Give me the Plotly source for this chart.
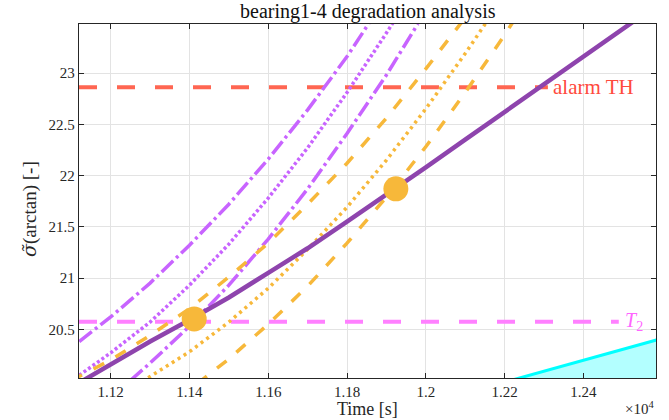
import plotly.graph_objects as go

# ---------------- data ----------------
x_tick_vals = [11200, 11400, 11600, 11800, 12000, 12200, 12400]
x_tick_text = ["1.12", "1.14", "1.16", "1.18", "1.2", "1.22", "1.24"]
y_tick_vals = [20.5, 21, 21.5, 22, 22.5, 23]
y_tick_text = ["20.5", "21", "21.5", "22", "22.5", "23"]

# measured degradation (solid purple)
t_meas = [11130, 11200, 11300, 11400, 11500, 11600, 11700, 11800, 11900,
          12000, 12100, 12200, 12300, 12400, 12500, 12530]
s_meas = [20.00, 20.16, 20.38, 20.59, 20.81, 21.05, 21.29, 21.55, 21.81,
          22.08, 22.35, 22.62, 22.89, 23.16, 23.43, 23.51]

# predictions from first point (light purple)
t_p1 = [11120, 11200, 11300, 11400, 11500, 11600, 11700, 11800, 11870]
s_p1 = [20.38, 20.62, 20.95, 21.32, 21.72, 22.16, 22.64, 23.16, 23.57]
t_p2 = [11120, 11200, 11300, 11400, 11500, 11600, 11700, 11800, 11900, 11920]
s_p2 = [20.05, 20.27, 20.57, 20.93, 21.33, 21.78, 22.27, 22.81, 23.39, 23.51]
t_p3 = [11250, 11300, 11400, 11500, 11600, 11700, 11800, 11900, 11980]
s_p3 = [20.00, 20.17, 20.53, 20.93, 21.38, 21.87, 22.41, 22.98, 23.48]

# predictions from second point (orange)
t_o1 = [11100, 11200, 11300, 11400, 11500, 11600, 11700, 11800, 11900, 12000, 12090]
s_o1 = [20.00, 20.20, 20.44, 20.70, 21.01, 21.34, 21.72, 22.12, 22.56, 23.04, 23.49]
t_o2 = [11280, 11300, 11400, 11500, 11600, 11700, 11800, 11900, 12000, 12100, 12160]
s_o2 = [19.99, 20.04, 20.28, 20.57, 20.90, 21.28, 21.69, 22.15, 22.65, 23.19, 23.53]
t_o3 = [11420, 11500, 11600, 11700, 11800, 11900, 12000, 12100, 12200, 12230]
s_o3 = [19.97, 20.21, 20.55, 20.92, 21.34, 21.79, 22.28, 22.81, 23.37, 23.55]

# prediction points
t_pts = [11412, 11924]
s_pts = [20.60, 21.87]

# thresholds
alarm_th = 22.86
alarm_x = [11119.5, 12310]
t2_th = 20.574
t2_x = [11119.5, 12490]

# cyan region (bottom right)
t_cyan = [12200, 12600]
s_cyan = [19.984, 20.41]

x_range = [11119.5, 12584.5]
y_range = [20.0244, 23.478]

# ---------------- styling ----------------
FONT = '"Liberation Serif", "DejaVu Serif", "Times New Roman", serif'
AX = "#262626"
PURPLE = "#8e44ad"
LPURPLE = "#c864ff"
ORANGE = "#f7b83a"
RED = "#ff6652"
MAGENTA = "#ff80ff"

fig = go.Figure()

fig.add_trace(go.Scatter(x=t_cyan, y=s_cyan, mode="lines", fill="tozeroy",
                         fillcolor="#b3ffff", line=dict(color="#00ffff", width=3),
                         hoverinfo="skip"))

fig.add_trace(go.Scatter(x=alarm_x, y=[alarm_th] * len(alarm_x), mode="lines",
                         line=dict(color=RED, width=4, dash="18px,20px")))
fig.add_trace(go.Scatter(x=t2_x, y=[t2_th] * len(t2_x), mode="lines",
                         line=dict(color=MAGENTA, width=4, dash="18px,20px")))

dashdot = "16px,4px,3px,4px"
fig.add_trace(go.Scatter(x=t_p1, y=s_p1, mode="lines",
                         line=dict(color=LPURPLE, width=3.5, dash=dashdot)))
fig.add_trace(go.Scatter(x=t_p2, y=s_p2, mode="lines",
                         line=dict(color=LPURPLE, width=3.5, dash="3px,2.5px")))
fig.add_trace(go.Scatter(x=t_p3, y=s_p3, mode="lines",
                         line=dict(color=LPURPLE, width=3.5, dash=dashdot)))

fig.add_trace(go.Scatter(x=t_o1, y=s_o1, mode="lines",
                         line=dict(color=ORANGE, width=3.5, dash="12px,13px")))
fig.add_trace(go.Scatter(x=t_o2, y=s_o2, mode="lines",
                         line=dict(color=ORANGE, width=3.5, dash="3px,4px")))
fig.add_trace(go.Scatter(x=t_o3, y=s_o3, mode="lines",
                         line=dict(color=ORANGE, width=3.5, dash="12px,13px")))

fig.add_trace(go.Scatter(x=t_meas, y=s_meas, mode="lines",
                         line=dict(color=PURPLE, width=4.5)))

fig.add_trace(go.Scatter(x=t_pts, y=s_pts, mode="markers",
                         marker=dict(color=ORANGE, size=25, line=dict(width=0))))

# plot area is 577 x 354 px (79..656, 24..378); annotations in paper units
PW, PH = 577.0, 354.0

fig.add_annotation(xref="paper", yref="paper", x=0.5, y=1 + 12.5 / PH,
                   text="bearing1-4 degradation analysis", showarrow=False,
                   xanchor="center", yanchor="middle",
                   font=dict(family=FONT, size=20, color="#111111"))
fig.add_annotation(xref="paper", yref="paper", x=0.5, y=-(409 - 378) / PH,
                   text="Time [s]", showarrow=False,
                   xanchor="center", yanchor="middle",
                   font=dict(family=FONT, size=18, color=AX))
fig.add_annotation(xref="paper", yref="paper", x=(29 - 79) / PW, y=(378 - 209) / PH,
                   text="<span style=\"font-family:'DejaVu Serif'\"><i>σ\u0303</i></span>(arctan) [-]",
                   showarrow=False, textangle=-90,
                   xanchor="center", yanchor="middle",
                   font=dict(family=FONT, size=19, color=AX))
fig.add_annotation(x=12318, y=alarm_th, text="alarm TH", showarrow=False,
                   xanchor="left", yanchor="middle",
                   font=dict(family=FONT, size=21, color="#ff4a3d"))
fig.add_annotation(x=12500, y=t2_th, text="<i>T</i><sub>2</sub>", showarrow=False,
                   xanchor="left", yanchor="middle",
                   font=dict(family=FONT, size=20, color="#ff66ff"))
fig.add_annotation(xref="paper", yref="paper", x=1.0, y=-(408 - 378) / PH,
                   text="×10<sup>4</sup>", showarrow=False,
                   xanchor="right", yanchor="middle",
                   font=dict(family=FONT, size=15, color=AX))

fig.update_layout(
    width=669, height=420,
    margin=dict(l=79, r=13, t=24, b=42, autoexpand=False),
    paper_bgcolor="white", plot_bgcolor="white",
    showlegend=False,
    hovermode=False,
    font=dict(family=FONT, size=15, color=AX),
)
fig.update_xaxes(range=x_range, tickvals=x_tick_vals, ticktext=x_tick_text,
                 showgrid=True, gridcolor="#e3e3e3", gridwidth=1,
                 showline=True, linecolor=AX, linewidth=1.2, mirror="ticks",
                 ticks="inside", ticklen=5, tickcolor=AX, zeroline=False,
                 automargin=False,
                 tickfont=dict(family=FONT, size=15, color=AX))
fig.update_yaxes(range=y_range, tickvals=y_tick_vals, ticktext=y_tick_text,
                 showgrid=True, gridcolor="#e3e3e3", gridwidth=1,
                 showline=True, linecolor=AX, linewidth=1.2, mirror="ticks",
                 ticks="inside", ticklen=5, tickcolor=AX, zeroline=False,
                 automargin=False,
                 tickfont=dict(family=FONT, size=15, color=AX))

# remove the default 8px page margin so the figure fills the window exactly
fig.write_html("out.html",
               config={"displayModeBar": False, "staticPlot": True},
               post_script="document.body.style.margin='0px';"
                           "document.body.style.overflow='hidden';")
